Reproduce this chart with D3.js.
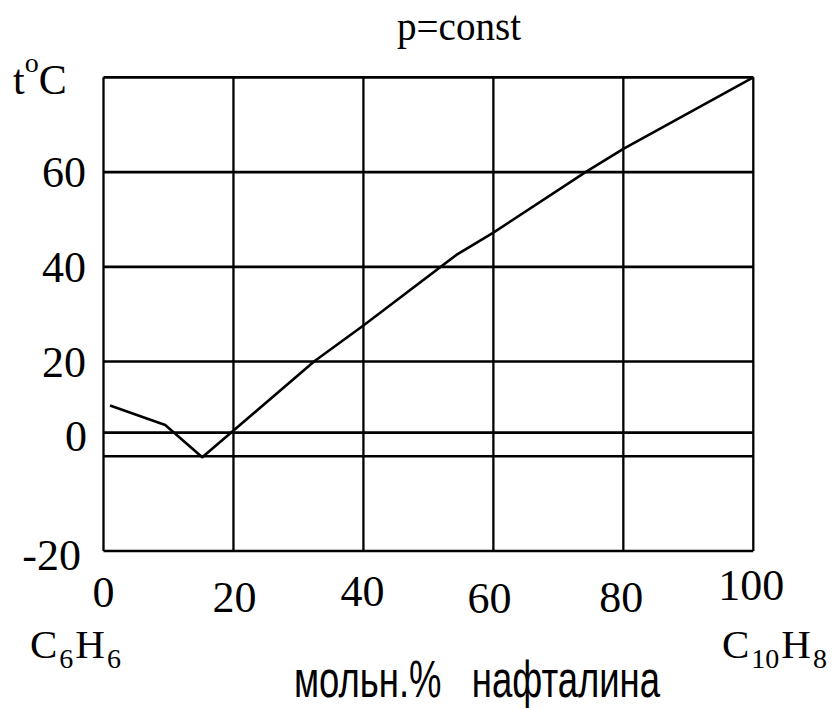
<!DOCTYPE html>
<html>
<head>
<meta charset="utf-8">
<script src="https://cdn.jsdelivr.net/npm/d3@7"></script>
<style>
  body { margin: 0; background: #fff; }
  svg { display: block; }
  .serif { font-family: "Liberation Serif", "Times New Roman", serif; fill: #000; }
  .sans { font-family: "Liberation Sans", Arial, sans-serif; fill: #000; }
</style>
</head>
<body>
<svg id="chart" width="834" height="708"></svg>
<script>
// mol % naphthalene and liquidus temperature
var xComp = [1, 9.5, 15.2, 32.5, 40, 54.3, 60, 74.3, 80, 100];
var tLiq  = [10.7, 6.6, -0.2, 20.1, 27.6, 42.5, 47.2, 60.1, 64.9, 80];

var xTicks = [0, 20, 40, 60, 80, 100];
var xTickLabels = ["0", "20", "40", "60", "80", "100"];
var yTicks = [60, 40, 20, 5, -20];
var yTickLabels = ["60", "40", "20", "0", "-20"];
var yGrid = [80, 60, 40, 20, 5, 0, -20];

var svg = d3.select("#chart");

var x = d3.scaleLinear().domain([0, 100]).range([103.5, 753.3]);
var y = d3.scaleLinear().domain([-20, 80]).range([551, 77.3]);

// grid
svg.append("g").selectAll("line").data(xTicks).join("line")
    .attr("x1", d => x(d)).attr("x2", d => x(d))
    .attr("y1", y(80)).attr("y2", y(-20))
    .attr("stroke", "#000").attr("stroke-width", 2.3);

svg.append("g").selectAll("line").data(yGrid).join("line")
    .attr("x1", x(0)).attr("x2", x(100))
    .attr("y1", d => y(d)).attr("y2", d => y(d))
    .attr("stroke", "#000").attr("stroke-width", 2.7);

// liquidus curve
var line = d3.line().x(d => x(d[0])).y(d => y(d[1]));
svg.append("path")
    .datum(d3.zip(xComp, tLiq))
    .attr("d", line)
    .attr("fill", "none")
    .attr("stroke", "#000")
    .attr("stroke-width", 2.6)
    .attr("stroke-linejoin", "round");

// x tick labels (hand-placed offsets as in the drawing)
var xLabDx = [0, 1, -1, -4, -2, -2];
var xLabDy = [56, 61, 55, 62, 61, 49];
svg.append("g").selectAll("text").data(xTicks).join("text")
    .attr("class", "serif")
    .attr("x", (d, i) => x(d) + xLabDx[i])
    .attr("y", (d, i) => y(-20) + xLabDy[i])
    .attr("text-anchor", "middle")
    .attr("font-size", 44)
    .text((d, i) => xTickLabels[i]);

// y tick labels
var yLabX = [86, 86, 86, 87, 81];
var yLabDy = [15, 15, 15, 18, 19];
svg.append("g").selectAll("text").data(yTicks).join("text")
    .attr("class", "serif")
    .attr("x", (d, i) => yLabX[i])
    .attr("y", (d, i) => y(d) + yLabDy[i])
    .attr("text-anchor", "end")
    .attr("font-size", 44)
    .text((d, i) => yTickLabels[i]);

// title
svg.append("text").attr("class", "serif")
    .attr("x", 397).attr("y", 40)
    .attr("font-size", 43)
    .attr("textLength", 124)
    .attr("lengthAdjust", "spacingAndGlyphs")
    .text("p=const");

// axis unit t°C
var tl = svg.append("text").attr("class", "serif")
    .attr("x", 13).attr("y", 94).attr("font-size", 42);
tl.append("tspan").text("t");
tl.append("tspan").attr("font-size", 28).attr("dy", -22).text("o");
tl.append("tspan").attr("dy", 22).text("C");

// components: each piece is its own text, laid end to end
function formula(px, parts) {
  var cx = px;
  parts.forEach(function (p) {
    var t = svg.append("text").attr("class", "serif")
        .attr("x", cx)
        .attr("y", p.sub ? 668 : 658)
        .attr("font-size", p.sub ? 28 : 41)
        .text(p.s);
    cx += t.node().getComputedTextLength() + 2;
  });
}
formula(30, [{s: "C"}, {s: "6", sub: true}, {s: "H"}, {s: "6", sub: true}]);
formula(722, [{s: "C"}, {s: "10", sub: true}, {s: "H"}, {s: "8", sub: true}]);

// x axis title
svg.append("text").attr("class", "sans")
    .attr("x", 294).attr("y", 697)
    .attr("font-size", 52)
    .attr("textLength", 366)
    .attr("lengthAdjust", "spacingAndGlyphs")
    .attr("xml:space", "preserve")
    .text("мольн.%   нафталина");
</script>
</body>
</html>
